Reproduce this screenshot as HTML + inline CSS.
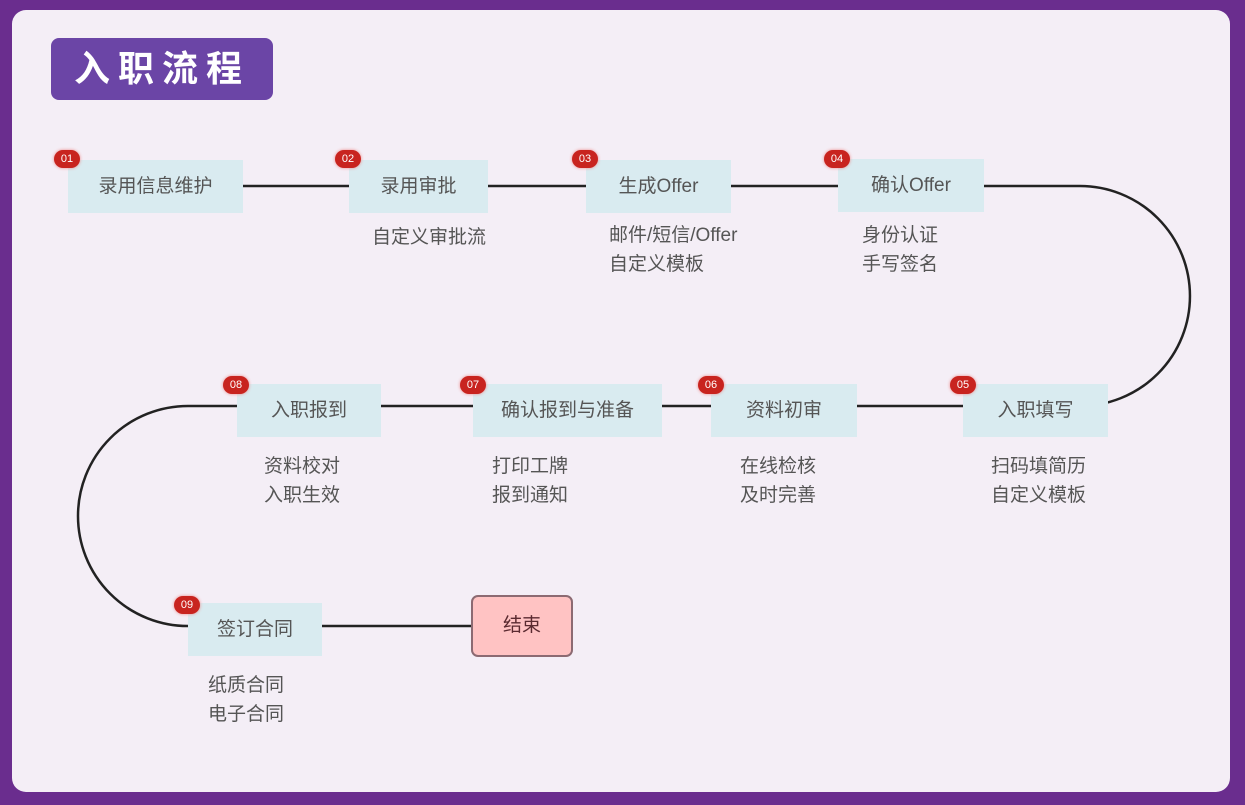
<html><head><style>
body{margin:0;width:1245px;height:805px;background:#6a2d8e;position:relative;overflow:hidden;font-family:"Liberation Sans","Noto Sans CJK SC",sans-serif}
.panel{position:absolute;left:12px;top:10px;width:1218px;height:782px;background:#f4eef6;border-radius:14px}
.title{position:absolute;left:51px;top:38px;width:222px;height:62px;background:#6b45a6;border-radius:8px;color:#fff;font-size:36px;font-weight:bold;letter-spacing:8px;line-height:62px;text-align:center}
.n{position:absolute;background:#d9ebf0;color:#555;font-size:19px;text-align:center;height:53px;line-height:53px}
.b{position:absolute;width:26px;height:18px;border-radius:9px;background:#c8241f;color:#fff;font-size:11px;line-height:18px;text-align:center;box-shadow:0 0 3px #e88}
.s{position:absolute;color:#555;font-size:19px;line-height:29px}
</style></head><body>
<div class="panel"></div>
<div class="title">入职流程</div>
<svg style="position:absolute;left:0;top:0" width="1245" height="805">
<g fill="none" stroke="#222" stroke-width="2.5">
<path d="M243 186H349M488 186H586M731 186H838"/>
<path d="M984 186H1080A110 110 0 0 1 1080 406H1108"/>
<path d="M381 406H473M662 406H711M857 406H963"/>
<path d="M237 406H188A110 110 0 0 0 188 626H188"/>
<path d="M322 626H471"/>
</g></svg>
<div class="n" style="left:68px;top:160px;width:175px">录用信息维护</div>
<div class="n" style="left:349px;top:160px;width:139px">录用审批</div>
<div class="n" style="left:586px;top:160px;width:145px">生成Offer</div>
<div class="n" style="left:838px;top:159px;width:146px">确认Offer</div>
<div class="n" style="left:963px;top:384px;width:145px">入职填写</div>
<div class="n" style="left:711px;top:384px;width:146px">资料初审</div>
<div class="n" style="left:473px;top:384px;width:189px">确认报到与准备</div>
<div class="n" style="left:237px;top:384px;width:144px">入职报到</div>
<div class="n" style="left:188px;top:603px;width:134px">签订合同</div>
<div style="position:absolute;left:471px;top:595px;width:98px;height:58px;background:#ffc3c3;border:2px solid #8c6a72;border-radius:7px;text-align:center;line-height:58px;font-size:19px;color:#5a2a30">结束</div>
<div class="b" style="left:54px;top:150px">01</div>
<div class="b" style="left:335px;top:150px">02</div>
<div class="b" style="left:572px;top:150px">03</div>
<div class="b" style="left:824px;top:150px">04</div>
<div class="b" style="left:950px;top:376px">05</div>
<div class="b" style="left:698px;top:376px">06</div>
<div class="b" style="left:460px;top:376px">07</div>
<div class="b" style="left:223px;top:376px">08</div>
<div class="b" style="left:174px;top:596px">09</div>
<div class="s" style="left:372px;top:223px">自定义审批流</div>
<div class="s" style="left:609px;top:221px">邮件/短信/Offer<br>自定义模板</div>
<div class="s" style="left:862px;top:221px">身份认证<br>手写签名</div>
<div class="s" style="left:991px;top:452px">扫码填简历<br>自定义模板</div>
<div class="s" style="left:740px;top:452px">在线检核<br>及时完善</div>
<div class="s" style="left:492px;top:452px">打印工牌<br>报到通知</div>
<div class="s" style="left:264px;top:452px">资料校对<br>入职生效</div>
<div class="s" style="left:208px;top:671px">纸质合同<br>电子合同</div>
</body></html>
